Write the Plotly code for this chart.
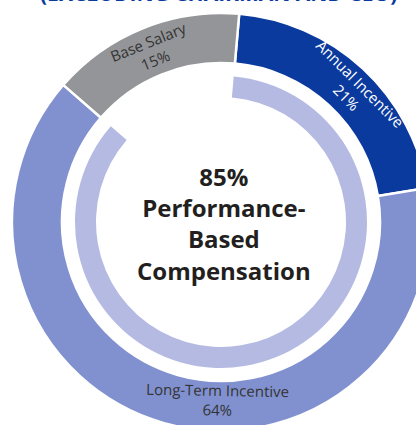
import math
import plotly.graph_objects as go

# ---- data ----
segments = ["Annual Incentive", "Long-Term Incentive", "Base Salary"]
shares = [21, 64, 15]
perf_labels = ["Performance-Based", "Fixed"]
perf_share = [85, 15]
center_lines = ["85%", "Performance-", "Based", "Compensation"]
title_text = "(EXCLUDING CHAIRMAN AND CEO)"

# ---- style ----
seg_colors = ["#0a3a9e", "#8191cf", "#949598"]
label_colors = ["#ffffff", "#333333", "#333333"]
inner_colors = ["#b5bae3", "rgba(0,0,0,0)"]
label_angle_override = [45, 181, None]
label_r_list = [186, 178, 184]

W, H = 440, 440
cx, cy = 221, 222
R_out, R_out_hole = 209, 159
R_in, R_in_hole = 146, 125
rot = 5


def dom(r):
    return dict(x=[(cx - r) / W, (cx + r) / W], y=[1 - (cy + r) / H, 1 - (cy - r) / H])


fig = go.Figure()
fig.add_trace(go.Pie(
    labels=segments, values=shares, sort=False, direction="clockwise", rotation=rot,
    hole=R_out_hole / R_out, domain=dom(R_out),
    marker=dict(colors=seg_colors, line=dict(color="white", width=2.5)),
    textinfo="none", hoverinfo="label+percent", showlegend=False,
))
fig.add_trace(go.Pie(
    labels=perf_labels, values=perf_share, sort=False, direction="clockwise", rotation=rot,
    hole=R_in_hole / R_in, domain=dom(R_in),
    marker=dict(colors=inner_colors, line=dict(width=0)),
    textinfo="none", hoverinfo="skip", showlegend=False,
))

annotations = []
total = sum(shares)
cum = 0
for name, v, col, ov, lr in zip(segments, shares, label_colors, label_angle_override, label_r_list):
    mid = rot + 360 * (cum + v / 2) / total
    cum += v
    ang = ov if ov is not None else mid
    a = math.radians(ang)
    px = cx + lr * math.sin(a)
    py = cy - lr * math.cos(a)
    ta = ((ang + 180) % 360) - 180
    if ta > 90:
        ta -= 180
    elif ta < -90:
        ta += 180
    annotations.append(dict(
        x=px / W, y=1 - py / H, xref="paper", yref="paper", showarrow=False,
        xanchor="center", yanchor="middle", textangle=ta,
        text=f"{name}<br>{v}%",
        font=dict(family="Open Sans", size=15, color=col),
    ))

annotations.append(dict(
    x=224 / W, y=1 - 223 / H, xref="paper", yref="paper", showarrow=False,
    xanchor="center", yanchor="middle",
    text="<br>".join(f"<b>{t}</b>" for t in center_lines),
    font=dict(family="Open Sans", size=24, color="#231f20"),
))
annotations.append(dict(
    x=218 / W, y=1 - 9 / H, xref="paper", yref="paper", showarrow=False,
    xanchor="center", yanchor="bottom",
    text=f"<b>{title_text}</b>",
    font=dict(family="Open Sans", size=21, color="#0a3a9e"),
))

fig.update_layout(
    width=W, height=H, margin=dict(l=0, r=0, t=0, b=0),
    paper_bgcolor="white", plot_bgcolor="white",
    annotations=annotations, showlegend=False,
)

fig.write_html(
    "out.html",
    config={"displayModeBar": False},
    post_script="document.body.style.margin='0';document.body.style.overflow='hidden';",
)
